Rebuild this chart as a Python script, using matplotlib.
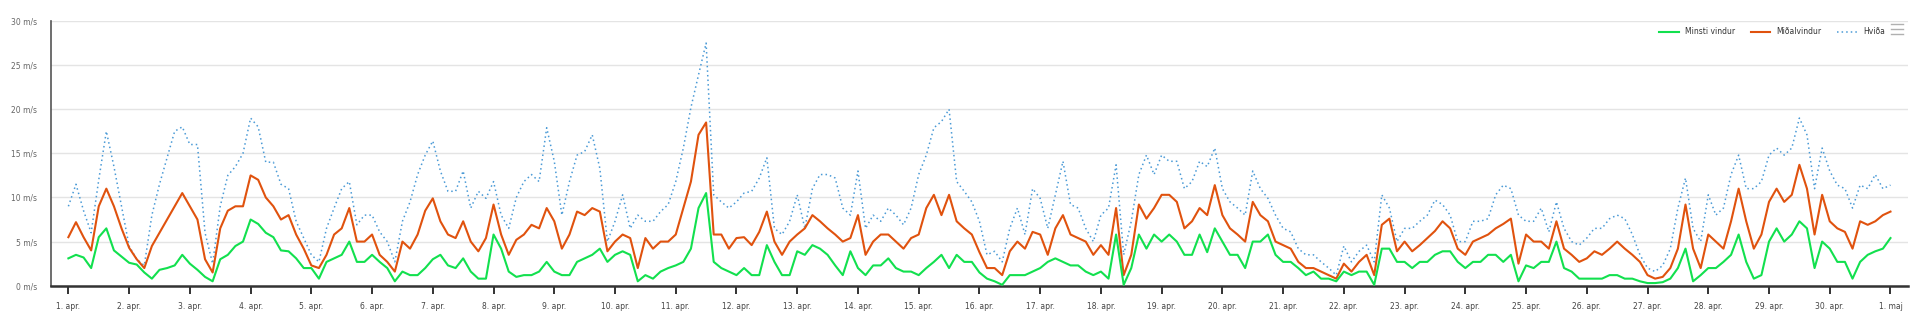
import numpy as np
import matplotlib
matplotlib.use("Agg")
import matplotlib.pyplot as plt
from matplotlib.lines import Line2D

# vindmælingar í apríl, lesið af mynd á 3 klst fresti (dagar frá 1. apr.)
step_days = 0.125

minsti = [
    3.1, 3.5, 3.2, 2.0, 5.5, 6.5, 4.0, 3.3,
    2.6, 2.4, 1.5, 0.8, 1.8, 2.0, 2.3, 3.5,
    2.5, 1.8, 1.0, 0.5, 3.0, 3.5, 4.5, 5.0,
    7.5, 7.0, 6.0, 5.5, 4.0, 3.9, 3.1, 2.0,
    2.0, 0.8, 2.7, 3.1, 3.5, 5.0, 2.7, 2.7,
    3.5, 2.7, 2.0, 0.5, 1.6, 1.2, 1.2, 2.0,
    3.0, 3.5, 2.3, 2.0, 3.1, 1.6, 0.8, 0.8,
    5.8, 4.2, 1.6, 1.0, 1.2, 1.2, 1.6, 2.7,
    1.6, 1.2, 1.2, 2.7, 3.1, 3.5, 4.2, 2.7,
    3.5, 3.9, 3.5, 0.5, 1.2, 0.8, 1.6, 2.0,
    2.3, 2.7, 4.2, 8.8, 10.5, 2.7, 2.0, 1.6,
    1.2, 2.0, 1.2, 1.2, 4.6, 2.7, 1.2, 1.2,
    3.9, 3.5, 4.6, 4.2, 3.5, 2.3, 1.2, 3.9,
    2.0, 1.2, 2.3, 2.3, 3.1, 2.0, 1.6, 1.6,
    1.2, 2.0, 2.7, 3.5, 2.0, 3.5, 2.7, 2.7,
    1.5, 0.8, 0.5, 0.1, 1.2, 1.2, 1.2, 1.6,
    2.0, 2.7, 3.1, 2.7, 2.3, 2.3, 1.6, 1.2,
    1.6, 0.8, 5.8, 0.1, 2.0, 5.8, 4.2, 5.8,
    5.0, 5.8, 5.0, 3.5, 3.5, 5.8, 3.8, 6.5,
    5.0, 3.5, 3.5, 2.0, 5.0, 5.0, 5.8, 3.5,
    2.7, 2.7, 2.0, 1.2, 1.6, 0.8, 0.8, 0.5,
    1.6, 1.2, 1.6, 1.6, 0.1, 4.2, 4.2, 2.7,
    2.7, 2.0, 2.7, 2.7, 3.5, 3.9, 3.9, 2.7,
    2.0, 2.7, 2.7, 3.5, 3.5, 2.7, 3.5, 0.5,
    2.3, 2.0, 2.7, 2.7, 5.0, 2.0, 1.6, 0.8,
    0.8, 0.8, 0.8, 1.2, 1.2, 0.8, 0.8, 0.5,
    0.3, 0.3, 0.4, 0.8, 2.0, 4.2, 0.5, 1.2,
    2.0, 2.0, 2.7, 3.5, 5.8, 2.7, 0.8, 1.2,
    5.0, 6.5, 5.0, 5.8, 7.3, 6.5, 2.0, 5.0,
    4.2, 2.7, 2.7, 0.8, 2.7, 3.5, 3.9, 4.2,
    5.4,
]

midal = [
    5.5, 7.2, 5.5, 4.0, 9.0, 11.0, 9.0, 6.5,
    4.3, 3.0, 2.0, 4.5, 6.0, 7.5, 9.0, 10.5,
    9.0, 7.5, 3.0, 1.5, 6.5, 8.5, 9.0, 9.0,
    12.5, 12.0, 10.0, 9.0, 7.5, 8.0, 5.8, 4.2,
    2.3, 2.0, 3.5, 5.8, 6.5, 8.8, 5.0, 5.0,
    5.8, 3.5, 2.7, 1.6, 5.0, 4.2, 5.8, 8.5,
    9.9, 7.3, 5.8, 5.4, 7.3, 5.0, 3.9, 5.4,
    9.2, 5.8, 3.5, 5.2, 5.8, 6.9, 6.5, 8.8,
    7.3, 4.2, 5.8, 8.4, 8.0, 8.8, 8.4, 3.9,
    5.0, 5.8, 5.4, 2.0, 5.4, 4.2, 5.0, 5.0,
    5.8, 8.8, 11.8, 17.1, 18.5, 5.8, 5.8, 4.2,
    5.4, 5.5, 4.6, 6.1, 8.4, 5.0, 3.5, 5.0,
    5.8, 6.5, 8.0, 7.3, 6.5, 5.8, 5.0, 5.4,
    8.0, 3.5, 5.0, 5.8, 5.8, 5.0, 4.2, 5.4,
    5.8, 8.8, 10.3, 8.0, 10.3, 7.3, 6.5, 5.8,
    3.8, 2.0, 2.0, 1.2, 3.9, 5.0, 4.2, 6.1,
    5.8, 3.5, 6.5, 8.0, 5.8, 5.4, 5.0, 3.5,
    4.6, 3.5, 8.8, 1.2, 3.5, 9.2, 7.6, 8.8,
    10.3, 10.3, 9.5, 6.5, 7.3, 8.8, 8.0, 11.4,
    8.0, 6.5, 5.8, 5.0, 9.5, 8.0, 7.3, 5.0,
    4.6, 4.2, 2.7, 2.0, 2.0, 1.6, 1.2, 0.8,
    2.5, 1.6, 2.7, 3.5, 1.2, 6.9, 7.6, 3.9,
    5.0, 3.9, 4.6, 5.4, 6.2, 7.3, 6.5, 4.2,
    3.5, 5.0, 5.4, 5.8, 6.5, 7.0, 7.6, 2.5,
    5.8, 5.0, 5.0, 4.2, 7.3, 4.2, 3.5, 2.7,
    3.1, 3.9, 3.5, 4.2, 5.0, 4.2, 3.5, 2.7,
    1.2, 0.8, 1.0, 2.0, 4.2, 9.2, 4.2, 2.0,
    5.8, 5.0, 4.2, 7.3, 11.0, 7.3, 4.2, 5.8,
    9.5, 11.0, 9.5, 10.3, 13.7, 11.0, 5.8, 10.3,
    7.3, 6.5, 6.1, 4.2, 7.3, 6.9, 7.3, 8.0,
    8.4,
]

hvida = [
    9.0, 11.5, 8.5, 6.0, 12.0, 17.5, 13.5, 9.0,
    4.5, 3.0, 2.3, 8.0, 11.5, 14.5, 17.5, 18.0,
    16.0, 16.0, 6.0, 2.5, 9.0, 12.5, 13.5, 15.0,
    19.0, 18.0, 14.0, 14.0, 11.5, 11.0, 7.3, 5.4,
    3.5, 2.7, 6.5, 8.8, 11.0, 11.8, 6.9, 8.0,
    8.0, 6.1, 5.0, 2.7, 7.3, 9.5, 12.6, 14.8,
    16.4, 13.0, 10.7, 10.7, 13.0, 8.8, 10.7, 9.9,
    11.8, 8.0, 6.5, 10.0, 11.8, 12.6, 11.8, 17.9,
    14.1, 8.0, 11.8, 14.8, 15.2, 17.1, 13.3, 5.0,
    7.3, 10.3, 6.5, 8.0, 7.3, 7.3, 8.4, 9.2,
    11.8, 15.6, 20.2, 23.9, 27.5, 10.3, 9.5, 8.8,
    9.5, 10.5, 10.7, 12.2, 14.5, 6.5, 5.8, 7.3,
    10.3, 6.5, 11.0, 12.6, 12.6, 12.2, 8.8, 8.0,
    13.0, 6.5, 8.0, 7.3, 8.8, 8.0, 6.9, 8.8,
    12.6, 14.8, 17.9, 18.6, 20.0, 11.8, 10.7, 9.5,
    7.3, 3.5, 3.9, 2.7, 6.5, 8.8, 5.8, 11.0,
    9.9, 6.5, 10.3, 14.1, 9.2, 8.8, 6.5, 5.0,
    8.0, 8.8, 13.7, 3.5, 7.3, 12.6, 14.8, 12.6,
    14.8, 14.1, 14.1, 11.0, 11.8, 14.1, 13.5, 15.6,
    11.0, 9.5, 8.8, 8.0, 13.0, 11.0, 9.9, 8.0,
    6.5, 6.1, 4.2, 3.5, 3.5, 2.7, 2.0, 1.2,
    4.5, 2.7, 3.9, 4.6, 2.7, 10.3, 8.8, 5.0,
    6.5, 6.5, 7.3, 8.0, 9.7, 9.2, 8.0, 5.0,
    5.0, 7.3, 7.3, 7.6, 10.3, 11.4, 11.0, 8.0,
    7.3, 7.3, 8.8, 6.1, 9.5, 6.5, 5.0, 4.6,
    5.4, 6.5, 6.5, 7.6, 8.0, 7.6, 5.8, 3.5,
    2.0, 1.6, 2.3, 4.2, 8.8, 12.2, 6.5, 5.0,
    10.3, 8.0, 8.8, 12.6, 14.8, 11.0, 11.0, 11.8,
    14.8, 15.6, 14.8, 15.6, 19.0, 17.1, 11.0, 15.6,
    13.0, 11.4, 11.0, 8.8, 11.4, 11.0, 12.6, 11.0,
    11.4,
]

day_labels = [f"{d}. apr." for d in range(1, 31)] + ["1. maj"]
y_ticks = [0, 5, 10, 15, 20, 25, 30]

t = np.arange(len(minsti)) * step_days

fig = plt.figure(figsize=(19.2, 3.22), dpi=100)
ax = fig.add_axes([0.0266, 0.1127, 0.9672, 0.8221])

ax.plot(t, hvida, color="#4a9ad6", lw=1.1, ls=(0, (1, 2)), label="Hviða", zorder=2)
ax.plot(t, midal, color="#e0520e", lw=1.5, label="Miðalvindur", zorder=3)
ax.plot(t, minsti, color="#12e04e", lw=1.5, label="Minsti vindur", zorder=4)

ax.set_xlim(-0.285, 30.29)
ax.set_ylim(0, 30)
ax.set_yticks(y_ticks)
ax.set_yticklabels([f"{v} m/s" for v in y_ticks], fontsize=5.5, color="#666666")
ax.set_xticks(range(31))
ax.set_xticklabels(day_labels, fontsize=5.5, color="#444444")
ax.tick_params(axis="y", length=0, pad=10)
ax.tick_params(axis="x", direction="out", length=6, width=1.3, color="#222222", pad=6)
ax.grid(axis="y", color="#e4e4e4", lw=1)
ax.set_axisbelow(True)

for s in ["top", "right"]:
    ax.spines[s].set_visible(False)
ax.spines["left"].set_color("#555555")
ax.spines["left"].set_linewidth(1.2)
ax.spines["bottom"].set_color("#333333")
ax.spines["bottom"].set_linewidth(1.8)

handles = [
    Line2D([], [], color="#12e04e", lw=1.5),
    Line2D([], [], color="#e0520e", lw=1.5),
    Line2D([], [], color="#4a9ad6", lw=1.1, ls=(0, (1, 2))),
]
fig.legend(handles, ["Minsti vindur", "Miðalvindur", "Hviða"], loc="center",
           bbox_to_anchor=(1772 / 1920, 1 - 32 / 322), ncol=3, frameon=False,
           fontsize=5.5, handlelength=2.6, columnspacing=2.0, labelcolor="#333333")

# valmyndartákn efst til hægri
for yy in [24, 29, 34]:
    fig.add_artist(Line2D([1891 / 1920, 1903 / 1920], [1 - yy / 322] * 2,
                          color="#b0b0b0", lw=1, transform=fig.transFigure))

fig.savefig("out.png", dpi=100)
